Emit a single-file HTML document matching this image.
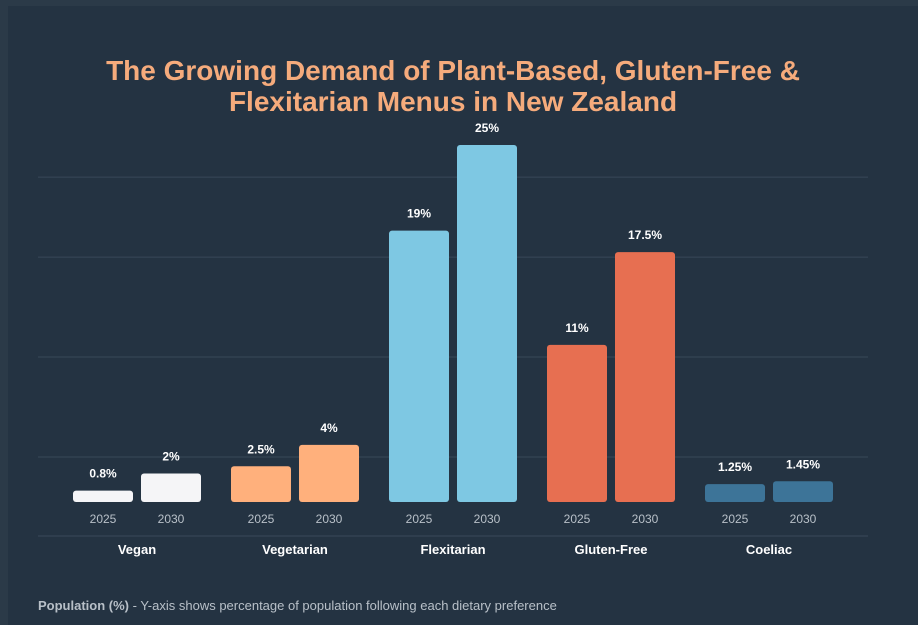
<!DOCTYPE html>
<html><head><meta charset="utf-8"><style>
body{margin:0;width:918px;height:625px;background:#2b3a48;font-family:"Liberation Sans",sans-serif;overflow:hidden}
#card{position:absolute;left:8px;top:6px;width:910px;height:619px;background:#243342}
svg{position:absolute;left:0;top:0}
</style></head><body>
<div id="card"></div>
<svg id="c" width="918" height="625">
<text x="453" y="80" text-anchor="middle" fill="#f5ab7c" font-size="28" font-weight="bold">The Growing Demand of Plant-Based, Gluten-Free &amp;</text>
<text x="453" y="111" text-anchor="middle" fill="#f5ab7c" font-size="28" font-weight="bold">Flexitarian Menus in New Zealand</text>
<line x1="38" y1="536" x2="868" y2="536" stroke="#3a4a5a" stroke-width="1"/>
<text x="38" y="610" fill="#b8c0c8" font-size="13"><tspan font-weight="bold">Population (%)</tspan> - Y-axis shows percentage of population following each dietary preference</text>
</svg>
<script>
const categories=["Vegan","Vegetarian","Flexitarian","Gluten-Free","Coeliac"];
const years=["2025","2030"];
const values2025=[0.8,2.5,19,11,1.25];
const values2030=[2,4,25,17.5,1.45];
const labels2025=["0.8%","2.5%","19%","11%","1.25%"];
const labels2030=["2%","4%","25%","17.5%","1.45%"];
const gridValues=[3.15,10.15,17.15,22.75];
const colors=["#f5f5f7","#ffb07c","#7ec8e3","#e76f51","#3d7498"];
const NS="http://www.w3.org/2000/svg",svg=document.getElementById('c');
const base=502,scale=357/25;
const y=v=>base-v*scale;
const groupX=i=>73+i*158;
function mk(t,a){const e=document.createElementNS(NS,t);for(const k in a)e.setAttribute(k,a[k]);svg.appendChild(e);return e;}
gridValues.forEach(g=>{const l=mk('line',{x1:38,x2:868,y1:y(g),y2:y(g),stroke:'#384858','stroke-width':1});

});
categories.forEach((c,i)=>{
 [values2025[i],values2030[i]].forEach((v,j)=>{
  const x=groupX(i)+j*68;
  const r=mk('rect',{x:x,y:y(v),width:60,height:v*scale,rx:3,fill:colors[i]});
  
  
  const t=mk('text',{x:x+30,y:y(v)-13,'text-anchor':'middle',fill:'#fff','font-size':12,'font-weight':'bold'});
  t.textContent=j?labels2030[i]:labels2025[i];
  
  
  const yl=mk('text',{x:x+30,y:523,'text-anchor':'middle',fill:'#b8c0c8','font-size':12});
  yl.textContent=years[j];
  
  
 });
 const cl=mk('text',{x:groupX(i)+64,y:554,'text-anchor':'middle',fill:'#fff','font-size':13,'font-weight':'bold'});
 cl.textContent=c;
 
 
});
</script>
</body></html>
